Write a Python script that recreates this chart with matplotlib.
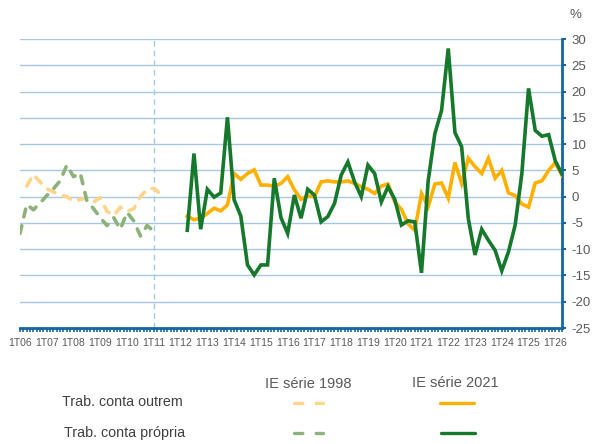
import matplotlib
matplotlib.use("Agg")
import matplotlib.pyplot as plt
from matplotlib.lines import Line2D
import numpy as np

plt.rcParams['font.family'] = ['Liberation Sans', 'DejaVu Sans']

# eixo: trimestres desde 1T06 (indice 0)
tick_labels = ['1T06', '1T07', '1T08', '1T09', '1T10', '1T11', '1T12', '1T13',
               '1T14', '1T15', '1T16', '1T17', '1T18', '1T19', '1T20', '1T21',
               '1T22', '1T23', '1T24', '1T25', '1T26']
n_quarters = 81
break_quarter = 20   # 1T11

# IE serie 1998
outrem_98_start = 1
outrem_98 = [2.0, 4.2, 2.8, 1.5, 0.9, 0.3, 0.0, -0.9, -0.5, -0.3, -1.0,
             -0.2, -2.8, -3.6, -2.0, -2.8, -2.3, 0.0, 1.4, 1.6, 0.5]
propria_98_start = 0
propria_98 = [-7.0, -1.5, -2.5, -1.2, 0.2, 1.5, 3.0, 6.0, 3.8, 4.5, -0.8,
              -2.3, -4.0, -5.5, -4.0, -6.2, -3.0, -4.6, -7.5, -5.5, -6.6]

# IE serie 2021
serie21_start = 25
outrem_21 = [-3.7, -4.4, -4.1, -3.2, -2.2, -2.7, -1.6, 4.4, 3.3, 4.4,
             5.1, 2.2, 2.2, 2.0, 2.5, 3.8, 1.3, -0.5, 0.1, 0.0,
             2.8, 3.0, 2.8, 2.8, 3.0, 2.5, 1.9, 1.4, 0.6, 2.0,
             2.4, -1.0, -2.4, -5.2, -6.4, 0.6, -1.9, 2.4, 2.6, -0.3,
             6.5, 2.5, 7.3, 5.7, 4.4, 7.3, 3.5, 5.0, 0.7, 0.2,
             -1.4, -2.0, 2.6, 3.0, 5.0, 6.5, 4.0]
propria_21 = [-6.4, 8.2, -6.2, 1.4, -0.1, 0.7, 15.1, -0.6, -3.7, -13.0,
              -14.9, -13.0, -13.0, 3.5, -4.0, -7.0, 0.3, -4.1, 1.4, 0.3,
              -4.8, -3.8, -1.3, 4.1, 6.6, 2.8, 0.0, 6.0, 4.4, -1.0,
              1.9, -0.5, -5.4, -4.6, -4.8, -14.5, 3.0, 12.0, 16.4, 28.2,
              12.2, 9.5, -4.2, -11.1, -6.2, -8.3, -10.2, -14.1, -10.5, -5.4,
              4.4, 20.6, 12.6, 11.5, 11.8, 6.8, 4.3]

# cores
c_out21 = '#FFB000'
c_pro21 = '#15782B'
c_out98 = '#FFD58C'
c_pro98 = '#8DB37A'
c_axis = '#1565A5'
c_grid = '#A6C8E6'
c_text = '#595959'


def xs(start, vals):
    return np.arange(start, start + len(vals))


fig = plt.figure(figsize=(6.04, 4.44), dpi=100)
ax = fig.add_axes([20 / 604, 116 / 444, 542 / 604, 289 / 444])
ax.set_xlim(0, n_quarters)
ax.set_ylim(-25, 30)

# grelha
for v in range(-20, 31, 5):
    ax.axhline(v, color=c_grid, lw=1.0, zorder=1)
ax.axvline(break_quarter, color=c_grid, lw=1.0, ls=(0, (4, 3)), zorder=1)

# series
lw = 2.6
ax.plot(xs(outrem_98_start, outrem_98), outrem_98, color=c_out98, lw=lw,
        dashes=(2.2, 2.5), dash_capstyle='round', solid_joinstyle='round', zorder=3)
ax.plot(xs(propria_98_start, propria_98), propria_98, color=c_pro98, lw=lw,
        dashes=(2.2, 2.5), dash_capstyle='round', solid_joinstyle='round', zorder=3)
ax.plot(xs(serie21_start, outrem_21), outrem_21, color=c_out21, lw=lw,
        solid_joinstyle='miter', zorder=4)
ax.plot(xs(serie21_start, propria_21), propria_21, color=c_pro21, lw=lw,
        solid_joinstyle='miter', zorder=5)

# eixos
for s in ['left', 'top']:
    ax.spines[s].set_visible(False)
for s in ['right', 'bottom']:
    ax.spines[s].set_color(c_axis)
    ax.spines[s].set_linewidth(2.0)
ax.yaxis.tick_right()
ax.set_yticks(range(-25, 31, 5))
ax.set_yticklabels([str(v) for v in range(-25, 31, 5)])
ax.tick_params(axis='y', direction='out', length=3, width=1.5, color=c_axis,
               labelsize=9.5, labelcolor=c_text, pad=4)
ax.set_xticks(range(0, n_quarters, 4))
ax.set_xticklabels(tick_labels)
ax.set_xticks(np.arange(0, n_quarters + 0.1, 0.5), minor=True)
ax.tick_params(axis='x', which='major', direction='out', length=3, width=1.2,
               color=c_axis, labelsize=7.5, labelcolor=c_text, pad=4)
ax.tick_params(axis='x', which='minor', direction='out', length=3, width=1.2,
               color=c_axis)

fig.text(575 / 604, 1 - 15 / 444, '%', fontsize=9.5, color=c_text,
         ha='center', va='center')

# legenda
def fy(y):
    return 1 - y / 444

fig.text(308 / 604, fy(384), 'IE série 1998', fontsize=10.5, color=c_text,
         ha='center', va='center')
fig.text(455 / 604, fy(383), 'IE série 2021', fontsize=10.5, color=c_text,
         ha='center', va='center')
fig.text(62 / 604, fy(402), 'Trab. conta outrem', fontsize=10.3,
         color='#404040', ha='left', va='center')
fig.text(64 / 604, fy(433), 'Trab. conta própria', fontsize=10.3,
         color='#404040', ha='left', va='center')

fig.add_artist(Line2D([294 / 604, 323 / 604], [fy(403)] * 2, color=c_out98,
                      lw=2.4, dashes=(2.5, 4.0), dash_capstyle='round'))
fig.add_artist(Line2D([294 / 604, 323 / 604], [fy(433)] * 2, color=c_pro98,
                      lw=2.4, dashes=(2.5, 4.0), dash_capstyle='round'))
fig.add_artist(Line2D([440 / 604, 474 / 604], [fy(403)] * 2, color=c_out21,
                      lw=2.4, solid_capstyle='round'))
fig.add_artist(Line2D([441 / 604, 475 / 604], [fy(433)] * 2, color=c_pro21,
                      lw=2.4, solid_capstyle='round'))

fig.savefig('out.png', dpi=100)
